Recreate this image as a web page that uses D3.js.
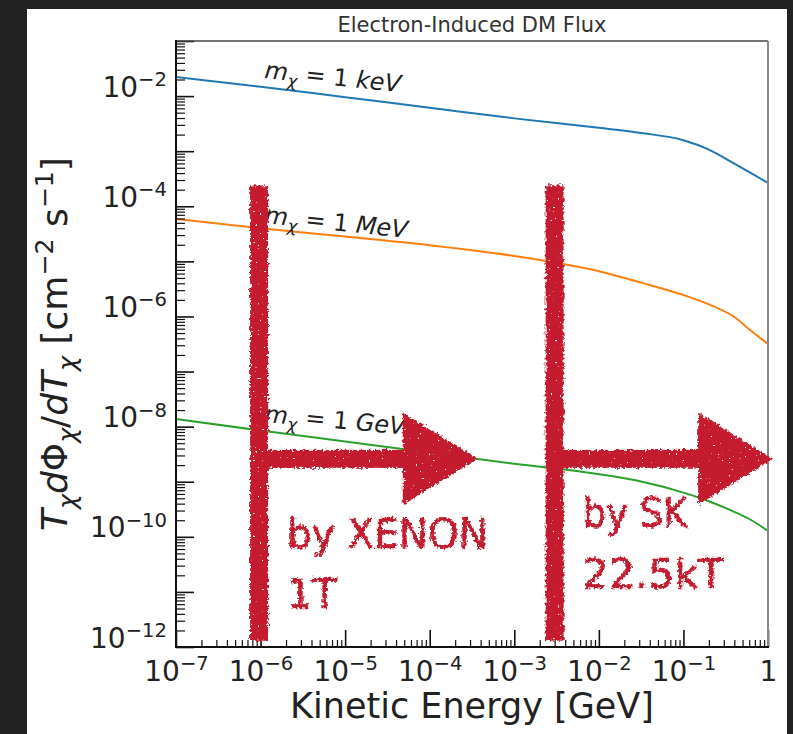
<!DOCTYPE html>
<html>
<head>
<meta charset="utf-8">
<script src="https://cdn.jsdelivr.net/npm/d3@7"></script>
<style>
  body { margin: 0; background: #222; }
  svg { display: block; }
  text { font-family: "DejaVu Sans", sans-serif; }
</style>
</head>
<body>
<svg id="chart" width="793" height="734"></svg>
<script>
// kinetic energy grid [GeV]
var energies = [1e-7, 1e-6, 1e-5, 1e-4, 1e-3, 1e-2, 3.16e-2, 0.1, 0.2, 0.4, 0.63, 1];
// T dPhi/dT  [cm^-2 s^-1]
var fluxKeV = [2.22e-2, 1.48e-2, 9.55e-3, 6.17e-3, 3.94e-3, 2.65e-3, 2.14e-3, 1.58e-3, 1.07e-3, 5.93e-4, 3.98e-4, 2.65e-4];
var fluxMeV = [5.87e-5, 3.98e-5, 2.82e-5, 1.96e-5, 1.25e-5, 6.61e-6, 4.11e-6, 2.45e-6, 1.66e-6, 9.77e-7, 5.50e-7, 3.16e-7];
var fluxGeV = [1.38e-8, 8.51e-9, 5.37e-9, 3.37e-9, 2.11e-9, 1.37e-9, 1.01e-9, 6.35e-10, 4.43e-10, 2.84e-10, 2.02e-10, 1.28e-10];

var seriesUnits = ["keV", "MeV", "GeV"];
var seriesColors = ["#1f77b4", "#ff7f0e", "#2ca02c"];
// where the "m_chi = 1 ..." labels sit (energy, flux) and their tilt
var labelEnergy = [1.1e-6, 1.1e-6, 1.1e-6];
var labelFlux = [2.13e-2, 4.98e-5, 1.21e-8];
var labelTilt = [6, 6, 5];

var xTickValues = [1e-7, 1e-6, 1e-5, 1e-4, 1e-3, 1e-2, 1e-1, 1];
var yDecades = d3.range(-12, 0).map(function (e) { return Math.pow(10, e); });
var yLabelled = [-12, -10, -8, -6, -4, -2];

// hand-drawn thresholds
var thresholdEnergy = [9.6e-7, 3.0e-3];
var arrowTipEnergy = [3.7e-4, 1.15];
var experimentText = [["by XENON", "1T"], ["by SK", "22.5kT"]];
var experimentTextWidth = [[201, 50], [105, 141]];
var barTopFlux = 2.4e-4, barBottomFlux = 1.3e-12, arrowFlux = 2.6e-9;

var svg = d3.select("#chart");
var margin = {left: 176, right: 768, top: 41, bottom: 647};

svg.append("rect").attr("x", 27).attr("y", 9).attr("width", 760).attr("height", 725).attr("fill", "white");

var x = d3.scaleLog().domain([1e-7, 1]).range([margin.left, margin.right]);
var y = d3.scaleLog().domain([1e-12, 1e-1]).range([margin.bottom, margin.top]);

function minorTicks(lo, hi) {
    var out = [];
    for (var e = lo; e < hi; e++) {
        for (var k = 2; k <= 9; k++) out.push(k * Math.pow(10, e));
    }
    return out;
}

// mathtext-ish helper: parts = [[text, kind]]
function rich(sel, parts, size) {
    var shift = 0;
    parts.forEach(function (p) {
        var kind = p[1];
        var target = kind === "sub" ? size * 0.24 : kind === "sup" ? -size * 0.38 : 0;
        var ts = sel.append("tspan").attr("dy", target - shift).text(p[0]);
        shift = target;
        if (kind === "sub" || kind === "sup") ts.attr("font-size", size * 0.7);
        if (kind === "i" || kind === "sub") ts.attr("font-style", "italic");
    });
}

function powLabel(sel, d, size) {
    var e = Math.round(Math.log10(d));
    sel.text(null);
    if (e === 0) { sel.text("1"); return; }
    rich(sel, [["10", "n"], ["\u2212" + Math.abs(e), "sup"]], size);
}

// curves
var line = d3.line()
    .x(function (d) { return x(d[0]); })
    .y(function (d) { return y(d[1]); })
    .curve(d3.curveMonotoneX);

[fluxKeV, fluxMeV, fluxGeV].forEach(function (vals, i) {
    svg.append("path")
        .datum(d3.zip(energies, vals))
        .attr("d", line)
        .attr("fill", "none")
        .attr("stroke", seriesColors[i])
        .attr("stroke-width", 2);

    var t = svg.append("text")
        .attr("transform", "translate(" + x(labelEnergy[i]) + "," + y(labelFlux[i]) + ") rotate(" + labelTilt[i] + ")")
        .attr("font-size", 24)
        .attr("fill", "#222");
    rich(t, [["m", "i"], ["\u03c7", "sub"], [" = 1 ", "n"], [seriesUnits[i], "i"]], 24);
});

// axes (ticks point inward)
var yMajor = svg.append("g").attr("transform", "translate(" + margin.left + ",0)")
    .call(d3.axisLeft(y).tickValues(yDecades).tickSize(-18).tickPadding(9).tickFormat(function () { return ""; }));
var yMinor = svg.append("g").attr("transform", "translate(" + margin.left + ",0)")
    .call(d3.axisLeft(y).tickValues(minorTicks(-12, -1)).tickSize(-9).tickFormat(function () { return ""; }));
var xMajor = svg.append("g").attr("transform", "translate(0," + margin.bottom + ")")
    .call(d3.axisBottom(x).tickValues(xTickValues).tickSize(-17).tickPadding(0).tickFormat(function () { return ""; }));
var xMinor = svg.append("g").attr("transform", "translate(0," + margin.bottom + ")")
    .call(d3.axisBottom(x).tickValues(minorTicks(-7, 0)).tickSize(-7).tickFormat(function () { return ""; }));

[yMajor, yMinor, xMajor, xMinor].forEach(function (g) {
    g.select(".domain").remove();
    g.selectAll(".tick line").attr("stroke", "#111").attr("stroke-width", 1.2);
});
[yMajor, xMajor].forEach(function (g) { g.selectAll(".tick line").attr("stroke-width", 1.6); });

yMajor.selectAll(".tick text")
    .attr("font-size", 28).attr("fill", "#222").attr("font-family", "DejaVu Sans")
    .attr("dy", 11)
    .each(function (d) {
        var e = Math.round(Math.log10(d));
        if (yLabelled.indexOf(e) < 0) { d3.select(this).text(null); return; }
        powLabel(d3.select(this), d, 28);
    });

xMajor.selectAll(".tick text")
    .attr("font-size", 28).attr("fill", "#222").attr("font-family", "DejaVu Sans")
    .attr("y", 34).attr("dy", 0)
    .each(function (d) { powLabel(d3.select(this), d, 28); });

// spines
svg.append("line").attr("x1", margin.left).attr("x2", margin.right).attr("y1", margin.top).attr("y2", margin.top)
    .attr("stroke", "#444").attr("stroke-width", 1.5);
svg.append("line").attr("x1", margin.right).attr("x2", margin.right).attr("y1", margin.top).attr("y2", margin.bottom)
    .attr("stroke", "#888").attr("stroke-width", 2);
svg.append("line").attr("x1", margin.left).attr("x2", margin.left).attr("y1", margin.top - 1).attr("y2", margin.bottom + 1)
    .attr("stroke", "#111").attr("stroke-width", 2);
svg.append("line").attr("x1", margin.left - 1).attr("x2", margin.right + 1).attr("y1", margin.bottom).attr("y2", margin.bottom)
    .attr("stroke", "#111").attr("stroke-width", 2);

// title and axis labels
svg.append("text").attr("x", (margin.left + margin.right) / 2).attr("y", 32)
    .attr("text-anchor", "middle").attr("font-size", 21).attr("fill", "#333")
    .text("Electron-Induced DM Flux");

svg.append("text").attr("x", (margin.left + margin.right) / 2).attr("y", 718)
    .attr("text-anchor", "middle").attr("font-size", 35).attr("fill", "#222")
    .text("Kinetic Energy [GeV]");

var yl = svg.append("text")
    .attr("transform", "translate(67," + (margin.top + margin.bottom) / 2 + ") rotate(-90)")
    .attr("text-anchor", "middle").attr("font-size", 36).attr("fill", "#222");
rich(yl, [["T", "i"], ["\u03c7", "sub"], ["d", "i"], ["\u03a6", "n"], ["\u03c7", "sub"], ["/", "n"], ["dT", "i"], ["\u03c7", "sub"],
    [" [cm", "n"], ["\u22122", "sup"], [" s", "n"], ["\u22121", "sup"], ["]", "n"]], 36);

// hand-drawn red marks
var defs = svg.append("defs");
var f = defs.append("filter").attr("id", "rough").attr("x", "-10%").attr("y", "-10%").attr("width", "120%").attr("height", "120%");
f.append("feTurbulence").attr("type", "fractalNoise").attr("baseFrequency", 0.35).attr("numOctaves", 2).attr("seed", 4).attr("result", "noise");
f.append("feDisplacementMap").attr("in", "SourceGraphic").attr("in2", "noise").attr("scale", 6)
    .attr("xChannelSelector", "R").attr("yChannelSelector", "G").attr("result", "disp");
f.append("feTurbulence").attr("type", "fractalNoise").attr("baseFrequency", 0.45).attr("numOctaves", 1).attr("seed", 9).attr("result", "n2");
f.append("feColorMatrix").attr("in", "n2").attr("type", "matrix")
    .attr("values", "0 0 0 0 0  0 0 0 0 0  0 0 0 0 0  0 0 0 -25 18.8").attr("result", "mask");
f.append("feComposite").attr("in", "disp").attr("in2", "mask").attr("operator", "in");

var red = "#c41b2e";
var marks = svg.append("g").attr("filter", "url(#rough)").attr("fill", red);

thresholdEnergy.forEach(function (e, i) {
    var bx = x(e);
    marks.append("rect").attr("x", bx - 9).attr("width", 18)
        .attr("y", y(barTopFlux)).attr("height", y(barBottomFlux) - y(barTopFlux));
    var ay = y(arrowFlux), tip = x(arrowTipEnergy[i]), base = tip - 75;
    marks.append("rect").attr("x", bx).attr("width", base - bx + 2).attr("y", ay - 9).attr("height", 18);
    marks.append("path").attr("d", d3.line()([[base, ay - 46], [tip, ay], [base, ay + 46]]) + "Z");

    experimentText[i].forEach(function (s, j) {
        marks.append("text")
            .attr("x", bx + 28)
            .attr("y", (i === 0 ? 548 : 527) + j * (i === 0 ? 60 : 61))
            .attr("font-size", 41)
            .attr("stroke", red).attr("stroke-width", 0.6)
            .attr("textLength", experimentTextWidth[i][j]).attr("lengthAdjust", "spacingAndGlyphs")
            .text(s);
    });
});
</script>
</body>
</html>
